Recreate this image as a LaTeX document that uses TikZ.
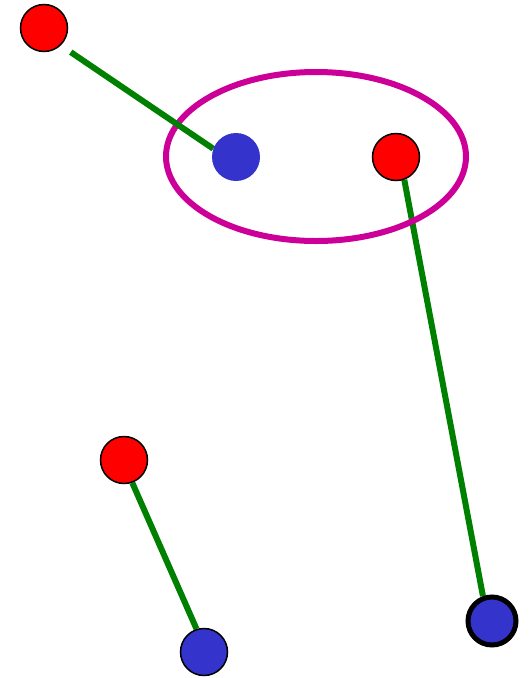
\documentclass[tikz,border=0pt]{standalone}
\usetikzlibrary{shapes.geometric,backgrounds}
\definecolor{DotRed}{HTML}{FF0000}
\definecolor{DotBlue}{HTML}{3434CC}
\definecolor{LinkGreen}{HTML}{008000}
\definecolor{RingPink}{HTML}{CC0099}

\begin{document}
\begin{tikzpicture}[
        x=1pt,y=-1pt,
        dot/.style={circle,inner sep=0pt,minimum size=47pt},
        reddot/.style={dot,fill=DotRed,draw=black,line width=1.5pt},
        bluedot/.style={dot,fill=DotBlue,draw=black,line width=1.5pt},
        link/.style={line width=6pt,color=LinkGreen},
        ring/.style={ellipse,draw=RingPink,line width=6pt,inner sep=0pt,
          minimum width=300pt,minimum height=169pt}
      ]
        \useasboundingbox (0,0) rectangle (529,678);
        \node[reddot] (r1) at (44,28) {};
        \node[dot,fill=DotBlue,minimum size=48pt] (b1) at (236,157) {};
        \node[reddot] (r2) at (396,157) {};
        \node[reddot] (r3) at (124,460) {};
        \node[bluedot] (b2) at (204,652) {};
        \node[bluedot,line width=5pt,minimum size=48pt] (b3) at (492,621) {};
        % links and ring go under the dots
        \begin{scope}[on background layer]
          \draw[link] (r2.-70) -- (b3.110);
          \node[ring] (pair) at (316,156.5) {};
          \draw[link,shorten <=12pt] (r1.-46) -- (b1.160);
          \draw[link] (r3.-70) -- (b2.108);
        \end{scope}
      \end{tikzpicture}
\end{document}
